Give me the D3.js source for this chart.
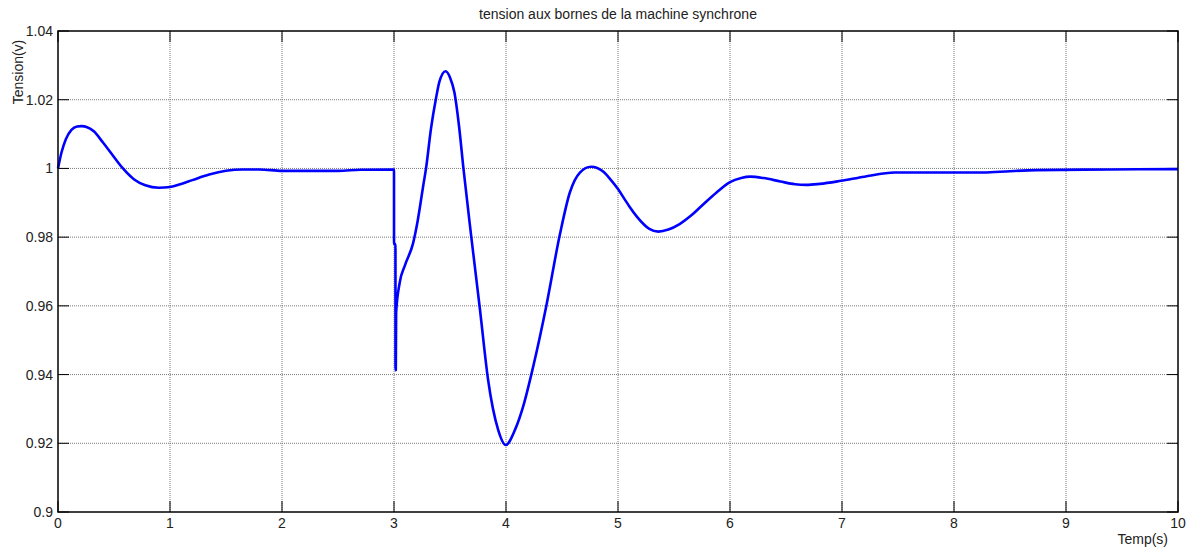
<!DOCTYPE html>
<html>
<head>
<meta charset="utf-8">
<script src="https://cdn.jsdelivr.net/npm/d3@7"></script>
<style>
  body { margin: 0; background: #fff; }
  text { font-family: Arial, "Liberation Sans", sans-serif; }
</style>
</head>
<body>
<svg id="chart" width="1198" height="560"></svg>
<script>
// chart size
var width = 1198;
var height = 560;
var margin = {top: 31, right: 20, bottom: 48, left: 58};
var w = width - margin.left - margin.right;
var h = height - margin.top - margin.bottom;

// data
var titleText = "tension aux bornes de la machine synchrone";
var xLabel = "Temp(s)";
var yLabel = "Tension(v)";
var xTicks = [0, 1, 2, 3, 4, 5, 6, 7, 8, 9, 10];
var yTicks = [0.9, 0.92, 0.94, 0.96, 0.98, 1, 1.02, 1.04];
var yTickLabels = ["0.9", "0.92", "0.94", "0.96", "0.98", "1", "1.02", "1.04"];

var times = [0, 0.03, 0.07, 0.12, 0.17, 0.21, 0.26, 0.32, 0.40, 0.48, 0.58, 0.68, 0.78, 0.9, 1.0, 1.1, 1.2, 1.35, 1.5, 1.65, 1.8, 2.0, 2.5, 2.7, 2.99,
  3.0, 3.0003, 3.013, 3.0133, 3.016, 3.019,
  3.05, 3.1, 3.17, 3.21, 3.262, 3.286, 3.33, 3.375, 3.405, 3.46, 3.50, 3.54, 3.58, 3.62, 3.69, 3.768, 3.84, 3.93, 3.997, 4.08, 4.16, 4.244, 4.363, 4.48, 4.57, 4.66, 4.76, 4.87, 4.93,
  5.0, 5.06, 5.1, 5.17, 5.28, 5.36, 5.45, 5.55, 5.65, 5.76, 5.88, 6.0, 6.1, 6.18, 6.3, 6.45, 6.58, 6.68, 6.8, 6.99, 7.2, 7.47, 7.96, 8.26, 8.5, 8.74, 9.39, 10];
var tension = [1.0, 1.0045, 1.0085, 1.0112, 1.0122, 1.0123, 1.012, 1.0108, 1.0076, 1.0042, 1.0, 0.9968, 0.9951, 0.99438, 0.9946, 0.9955, 0.9966, 0.9982, 0.9993, 0.9997, 0.9997, 0.9993, 0.9993, 0.9996, 0.9997,
  0.9997, 0.978, 0.978, 0.9413, 0.9413, 0.958,
  0.9666, 0.972, 0.9782, 0.9845, 0.9952, 1.0, 1.0115, 1.0204, 1.0252, 1.0283, 1.0265, 1.022, 1.0125, 1.0, 0.9801, 0.9588, 0.9385, 0.9239, 0.9195, 0.9239, 0.9315, 0.9425, 0.9605, 0.9806, 0.993, 0.9988, 1.0005, 0.999, 0.9969,
  0.994, 0.991, 0.989, 0.9859, 0.9824, 0.9816, 0.9822, 0.9838, 0.9862, 0.9895, 0.993, 0.996, 0.9972, 0.9976, 0.9972, 0.9962, 0.9954, 0.9952, 0.9955, 0.9964, 0.9976, 0.9988, 0.9988, 0.9988, 0.9992, 0.9995, 0.9997, 0.9998];

var data = times.map(function(t, i) { return {t: t, v: tension[i]}; });

var svg = d3.select("#chart");
var chart = svg.append("g")
    .attr("transform", "translate(" + margin.left + "," + margin.top + ")");

var x = d3.scaleLinear().domain([0, 10]).range([0, w]);
var y = d3.scaleLinear().domain([0.9, 1.04]).range([h, 0]);

// grid (dotted, matlab style)
chart.selectAll(".vgrid")
    .data(xTicks.slice(1, -1))
    .enter().append("line")
    .attr("x1", function(d) { return x(d); })
    .attr("x2", function(d) { return x(d); })
    .attr("y1", 0).attr("y2", h)
    .style("stroke", "#7a7a7a")
    .style("stroke-dasharray", "1,1");

chart.selectAll(".hgrid")
    .data(yTicks.slice(1, -1))
    .enter().append("line")
    .attr("x1", 0).attr("x2", w)
    .attr("y1", function(d) { return y(d); })
    .attr("y2", function(d) { return y(d); })
    .style("stroke", "#7a7a7a")
    .style("stroke-dasharray", "1,1");

// ticks inward on all four sides
var tl = 11;
xTicks.forEach(function(d) {
  chart.append("line").attr("x1", x(d)).attr("x2", x(d)).attr("y1", h).attr("y2", h - tl).style("stroke", "#000");
  chart.append("line").attr("x1", x(d)).attr("x2", x(d)).attr("y1", 0).attr("y2", tl).style("stroke", "#000");
});
yTicks.forEach(function(d) {
  chart.append("line").attr("x1", 0).attr("x2", tl).attr("y1", y(d)).attr("y2", y(d)).style("stroke", "#000");
  chart.append("line").attr("x1", w).attr("x2", w - tl).attr("y1", y(d)).attr("y2", y(d)).style("stroke", "#000");
});

// tick labels
chart.selectAll(".xlab")
    .data(xTicks)
    .enter().append("text")
    .attr("x", function(d) { return x(d); })
    .attr("y", h + 16)
    .style("text-anchor", "middle")
    .style("font-size", "14px")
    .style("fill", "#222")
    .text(function(d) { return d; });

chart.selectAll(".ylab")
    .data(yTicks)
    .enter().append("text")
    .attr("x", -5)
    .attr("y", function(d) { return y(d); })
    .attr("dy", "0.36em")
    .style("text-anchor", "end")
    .style("font-size", "14px")
    .style("fill", "#222")
    .text(function(d, i) { return yTickLabels[i]; });

// the curve
var line = d3.line()
    .x(function(d) { return x(d.t); })
    .y(function(d) { return y(d.v); })
    .curve(d3.curveMonotoneX);

chart.append("path")
    .datum(data)
    .attr("d", line)
    .style("fill", "none")
    .style("stroke", "#0000ff")
    .style("stroke-width", 2.6)
    .style("stroke-linejoin", "round");

// frame
chart.append("rect")
    .attr("x", 0).attr("y", 0)
    .attr("width", w).attr("height", h)
    .style("fill", "none")
    .style("stroke", "#000")
    .style("stroke-width", 1.5);

// title and axis labels
svg.append("text")
    .attr("x", margin.left + w / 2)
    .attr("y", 19)
    .style("text-anchor", "middle")
    .style("font-size", "14px")
    .style("fill", "#222")
    .text(titleText);

svg.append("text")
    .attr("transform", "translate(23," + 72 + ") rotate(-90)")
    .style("text-anchor", "middle")
    .style("font-size", "14px")
    .style("fill", "#222")
    .text(yLabel);

svg.append("text")
    .attr("x", margin.left + w - 10)
    .attr("y", 544)
    .style("text-anchor", "end")
    .style("font-size", "14px")
    .style("fill", "#222")
    .text(xLabel);
</script>
</body>
</html>
